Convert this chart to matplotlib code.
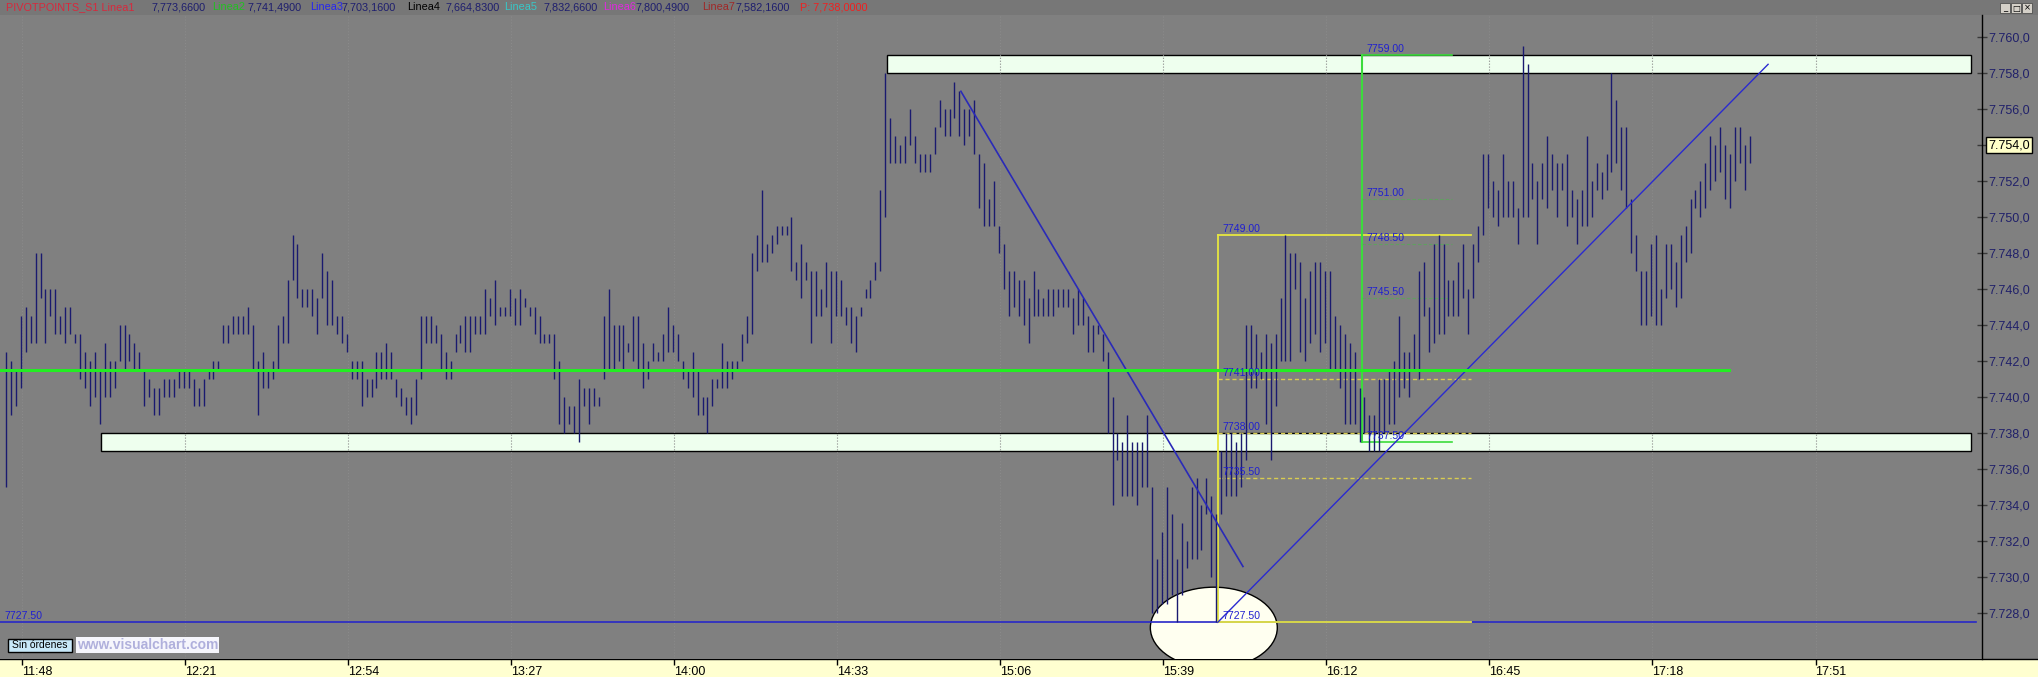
import numpy as np
import matplotlib
matplotlib.use("Agg")
import matplotlib.pyplot as plt
from matplotlib.patches import Rectangle, Ellipse
from matplotlib.lines import Line2D

plt.rcParams["font.family"] = ["Liberation Sans", "DejaVu Sans"]

W, H = 2038, 677

# -----------------------------
# 1-minute bars (high / low), first bar a bit before 11:48
# -----------------------------
highs = [
    7742.5, 7742.0, 7741.5, 7744.5, 7745.0, 7744.5, 7748.0, 7748.0, 7746.0, 7746.0,
    7746.0, 7744.5, 7745.0, 7745.0, 7743.5, 7743.5, 7742.5, 7742.0, 7742.5, 7741.5,
    7743.0, 7742.0, 7742.0, 7744.0, 7744.0, 7743.5, 7743.0, 7742.5, 7741.5, 7741.0,
    7740.5, 7740.5, 7741.0, 7741.0, 7741.0, 7741.5, 7741.5, 7741.5, 7741.0, 7740.5,
    7741.0, 7741.5, 7742.0, 7742.0, 7744.0, 7744.0, 7744.5, 7744.5, 7744.5, 7745.0,
    7744.0, 7742.0, 7742.5, 7741.5, 7742.0, 7744.0, 7744.5, 7746.5, 7749.0, 7748.5,
    7746.0, 7746.0, 7746.0, 7745.5, 7748.0, 7747.0, 7746.5, 7744.5, 7744.5, 7743.5,
    7742.0, 7742.0, 7742.0, 7741.0, 7741.0, 7742.5, 7742.5, 7743.0, 7742.5, 7741.0,
    7740.5, 7740.0, 7740.0, 7741.0, 7744.5, 7744.5, 7744.5, 7744.0, 7743.5, 7742.5,
    7742.0, 7743.5, 7744.0, 7744.5, 7744.5, 7744.5, 7744.5, 7746.0, 7745.5, 7746.5,
    7745.0, 7745.0, 7746.0, 7745.5, 7746.0, 7745.5, 7745.0, 7745.0, 7744.5, 7743.5,
    7743.5, 7743.5, 7742.0, 7740.0, 7739.5, 7739.5, 7741.0, 7740.5, 7740.5, 7740.5,
    7740.0, 7744.5, 7746.0, 7744.0, 7744.0, 7744.0, 7743.0, 7744.5, 7744.5, 7743.0,
    7742.0, 7743.0, 7742.5, 7743.5, 7745.0, 7744.0, 7743.5, 7742.0, 7741.5, 7742.5,
    7741.5, 7740.0, 7740.0, 7741.0, 7741.0, 7743.0, 7742.0, 7742.0, 7742.0, 7743.5,
    7744.5, 7748.0, 7749.0, 7751.5, 7748.5, 7749.0, 7749.5, 7749.5, 7749.5, 7750.0,
    7747.5, 7748.5, 7747.5, 7747.0, 7747.0, 7746.0, 7747.5, 7747.0, 7747.0, 7746.5,
    7745.0, 7745.0, 7744.5, 7745.0, 7746.0, 7746.5, 7747.5, 7751.5, 7758.0, 7755.5,
    7754.5, 7754.0, 7754.5, 7756.0, 7754.5, 7753.5, 7753.5, 7753.5, 7755.0, 7756.5,
    7756.0, 7756.0, 7757.5, 7757.0, 7756.0, 7756.0, 7756.5, 7753.5, 7753.0, 7751.0,
    7752.0, 7749.5, 7748.5, 7747.0, 7747.0, 7746.5, 7746.5, 7745.5, 7747.0, 7746.0,
    7745.5, 7746.0, 7746.0, 7746.0, 7746.0, 7746.0, 7745.5, 7746.0, 7745.5, 7744.5,
    7744.0, 7744.0, 7743.5, 7742.5, 7740.0, 7738.0, 7737.5, 7739.0, 7737.5, 7737.5,
    7737.5, 7739.0, 7735.0, 7731.0, 7732.5, 7735.0, 7733.5, 7731.0, 7733.0, 7732.0,
    7735.0, 7735.5, 7734.0, 7735.5, 7734.5, 7733.5, 7737.0, 7738.0, 7738.0, 7737.5,
    7738.0, 7744.0, 7744.0, 7743.5, 7742.5, 7743.5, 7743.0, 7743.5, 7745.5, 7749.0,
    7748.0, 7748.0, 7747.5, 7745.5, 7747.0, 7747.5, 7747.5, 7747.0, 7747.0, 7744.5,
    7744.0, 7743.5, 7743.0, 7742.5, 7740.5, 7740.0, 7739.0, 7739.0, 7741.0, 7741.0,
    7741.5, 7742.0, 7744.5, 7742.5, 7742.5, 7743.5, 7747.0, 7747.5, 7745.0, 7748.5,
    7749.0, 7748.5, 7746.5, 7746.5, 7747.5, 7748.5, 7746.0, 7748.5, 7749.5, 7753.5,
    7753.5, 7752.0, 7751.5, 7753.5, 7752.0, 7752.0, 7750.5, 7759.5, 7758.5, 7753.0,
    7752.0, 7753.0, 7754.5, 7753.5, 7753.0, 7753.0, 7753.5, 7751.5, 7751.0, 7751.5,
    7754.5, 7752.0, 7753.0, 7752.5, 7753.5, 7758.0, 7756.5, 7755.0, 7755.0, 7751.0,
    7749.0, 7747.0, 7747.0, 7748.5, 7749.0, 7746.0, 7748.5, 7748.5, 7747.5, 7749.0,
    7749.5, 7751.0, 7751.5, 7752.0, 7753.0, 7754.5, 7754.0, 7755.0, 7754.0, 7753.5,
    7755.0, 7755.0, 7754.0, 7754.5,
]
lows = [
    7735.0, 7739.0, 7739.5, 7740.5, 7742.5, 7743.0, 7743.0, 7745.5, 7743.0, 7744.5,
    7743.5, 7743.5, 7743.0, 7743.5, 7743.0, 7741.0, 7740.5, 7739.5, 7740.0, 7738.5,
    7740.0, 7740.0, 7740.5, 7742.0, 7741.5, 7742.0, 7741.5, 7741.5, 7739.5, 7740.0,
    7739.0, 7739.0, 7740.0, 7740.0, 7740.0, 7740.5, 7740.5, 7740.5, 7739.5, 7739.5,
    7739.5, 7741.0, 7741.0, 7741.5, 7743.0, 7743.0, 7743.5, 7743.5, 7743.5, 7743.5,
    7741.5, 7739.0, 7740.5, 7740.5, 7741.0, 7741.5, 7743.0, 7743.0, 7746.5, 7745.5,
    7745.0, 7745.0, 7744.5, 7743.5, 7745.5, 7744.0, 7744.0, 7743.5, 7743.0, 7742.5,
    7741.0, 7741.0, 7739.5, 7740.0, 7740.0, 7740.5, 7741.0, 7741.0, 7741.0, 7740.0,
    7739.5, 7739.0, 7738.5, 7739.0, 7741.0, 7743.0, 7743.0, 7743.0, 7741.5, 7741.0,
    7741.0, 7742.5, 7743.0, 7742.5, 7742.5, 7743.5, 7743.5, 7743.5, 7744.5, 7744.0,
    7744.5, 7744.5, 7744.5, 7744.0, 7744.0, 7745.0, 7744.5, 7743.5, 7743.0, 7743.0,
    7743.0, 7741.0, 7738.5, 7738.0, 7738.5, 7738.0, 7737.5, 7739.5, 7738.5, 7739.5,
    7739.5, 7741.0, 7741.5, 7741.5, 7742.0, 7741.5, 7742.5, 7742.0, 7741.5, 7740.5,
    7741.0, 7742.0, 7742.0, 7742.0, 7742.5, 7742.5, 7742.0, 7741.0, 7740.5, 7740.0,
    7739.0, 7739.0, 7738.0, 7739.5, 7740.5, 7740.5, 7740.5, 7741.0, 7741.5, 7742.0,
    7743.0, 7743.5, 7747.0, 7747.5, 7747.5, 7748.0, 7748.5, 7749.0, 7749.0, 7747.0,
    7746.5, 7745.5, 7746.5, 7743.0, 7744.5, 7744.5, 7745.0, 7743.0, 7744.5, 7744.5,
    7744.0, 7743.0, 7742.5, 7744.5, 7745.5, 7745.5, 7746.5, 7747.0, 7750.0, 7753.0,
    7753.0, 7753.0, 7753.0, 7754.0, 7753.0, 7752.5, 7752.5, 7752.5, 7753.5, 7755.0,
    7754.5, 7754.5, 7755.5, 7754.5, 7754.0, 7754.5, 7753.5, 7750.5, 7749.5, 7749.5,
    7749.5, 7748.0, 7746.0, 7744.5, 7745.0, 7744.5, 7744.0, 7743.0, 7744.5, 7744.5,
    7744.5, 7744.5, 7744.5, 7745.0, 7745.0, 7745.0, 7743.5, 7744.0, 7744.0, 7742.5,
    7742.5, 7743.5, 7742.0, 7738.0, 7734.0, 7736.5, 7734.5, 7734.5, 7734.5, 7734.0,
    7735.0, 7735.0, 7728.0, 7728.0, 7728.5, 7728.5, 7729.0, 7727.5, 7729.0, 7730.5,
    7731.0, 7731.0, 7731.5, 7733.5, 7730.0, 7727.5, 7733.5, 7734.5, 7734.5, 7734.5,
    7735.0, 7736.5, 7740.5, 7740.5, 7741.0, 7738.5, 7736.5, 7739.5, 7742.0, 7742.0,
    7742.0, 7746.0, 7742.5, 7742.0, 7743.0, 7743.5, 7742.5, 7743.0, 7741.5, 7741.5,
    7740.5, 7738.5, 7738.5, 7738.5, 7737.5, 7738.0, 7737.0, 7737.0, 7737.0, 7738.0,
    7738.5, 7738.5, 7740.0, 7740.5, 7740.0, 7741.5, 7741.0, 7744.5, 7742.5, 7743.0,
    7743.5, 7743.5, 7744.5, 7744.5, 7744.5, 7745.5, 7743.5, 7745.5, 7747.5, 7749.0,
    7750.5, 7750.0, 7749.5, 7750.0, 7750.0, 7750.0, 7748.5, 7750.0, 7750.0, 7751.0,
    7748.5, 7751.0, 7750.5, 7751.5, 7750.0, 7751.5, 7749.5, 7750.0, 7748.5, 7749.5,
    7749.5, 7750.0, 7751.5, 7751.0, 7751.5, 7752.5, 7753.0, 7751.5, 7750.5, 7748.0,
    7747.0, 7744.0, 7744.0, 7744.5, 7744.0, 7744.0, 7745.5, 7746.0, 7745.0, 7745.5,
    7747.5, 7748.0, 7750.5, 7750.0, 7750.5, 7751.5, 7752.0, 7752.5, 7751.0, 7750.5,
    7752.0, 7753.0, 7751.5, 7753.0,
]
FIRST_BAR_MIN = -3.3          # minutes relative to 11:48

time_labels = ["11:48", "12:21", "12:54", "13:27", "14:00", "14:33",
               "15:06", "15:39", "16:12", "16:45", "17:18", "17:51"]
time_ticks = [0, 33, 66, 99, 132, 165, 198, 231, 264, 297, 330, 363]
price_ticks = list(range(7728, 7761, 2))
last_price = 7754.0

# user drawings (prices, and minutes from 11:48)
upper_zone = (7758.0, 7759.0, 175.0, 394.5)
lower_zone = (7737.0, 7738.0, 15.9, 394.5)
linea2 = 7741.49
linea2_end = 345.5
support = 7727.5
support_end = 395.5
down_trend = ([190.0, 247.1], [7757.0, 7730.6])
up_trend = ([242.0, 353.4], [7727.5, 7758.5])
fib_y = (7727.5, 7749.0, 242.0, 293.3)
fib_y_levels = [7741.0, 7738.0, 7735.5]
fib_g = (7737.5, 7759.0, 271.2, 289.4)
fib_g_levels = [7751.0, 7748.5, 7745.5]
circle = (241.2, 7727.2, 25.7, 4.5)

header = [
    (6, "PIVOTPOINTS_S1 Linea1", "#d8283c"), (152, "7,773,6600", "#1e1e6e"),
    (212, "Linea2", "#22c022"), (248, "7,741,4900", "#1e1e6e"),
    (310, "Linea3", "#2626f0"), (342, "7,703,1600", "#1e1e6e"),
    (407, "Linea4", "#000000"), (446, "7,664,8300", "#1e1e6e"),
    (504, "Linea5", "#38c8c8"), (544, "7,832,6600", "#1e1e6e"),
    (603, "Linea6", "#e028e0"), (636, "7,800,4900", "#1e1e6e"),
    (702, "Linea7", "#a02828"), (736, "7,582,1600", "#1e1e6e"),
    (800, "P: 7,738,0000", "#f02020"),
]


def fmt_price(v):
    return f"{v:,.1f}".replace(",", "X").replace(".", ",").replace("X", ".")


fig = plt.figure(figsize=(W / 100, H / 100), dpi=100, facecolor="#808080")

# yellow time strip + dark header strip (behind the axes)
fig.patches.append(Rectangle((0, 0), 1, 18 / H, transform=fig.transFigure,
                             fc="#ffffd0", ec="none", zorder=-2))
fig.patches.append(Rectangle((0, 1 - 15 / H), 1, 15 / H, transform=fig.transFigure,
                             fc="#777777", ec="none", zorder=-2))
fig.lines.append(Line2D([0, 1], [18 / H, 18 / H], transform=fig.transFigure,
                        color="black", lw=1, zorder=-1))

ax = fig.add_axes([0, 18 / H, 1982 / W, 644 / H])
ax.set_facecolor("#808080")
ax.set_xlim(-4.51, 396.7)
ax.set_ylim(7725.46, 7761.24)
for s in ["top", "left", "bottom"]:
    ax.spines[s].set_visible(False)
ax.spines["right"].set_color("black")
ax.spines["right"].set_linewidth(1)

# zones
for lo, hi, x0, x1 in [upper_zone, lower_zone]:
    ax.add_patch(Rectangle((x0, lo), x1 - x0, hi - lo, fc="#eeffee", ec="black",
                           lw=1, zorder=1))
ax.vlines(time_ticks, 7725.46, 7761.24, colors="#8a8a8a", linestyles=":",
          lw=0.8, zorder=1.5)

cx, cy, cw, ch = circle
ax.add_patch(Ellipse((cx, cy), cw, ch, fc="#fffff0", ec="black", lw=1, zorder=1.6))

# bars
x = np.arange(len(highs)) + FIRST_BAR_MIN
ax.vlines(x, lows, highs, colors="#1a1a70", lw=1.0, zorder=3)

# horizontal levels
ax.plot([-4.51, linea2_end], [linea2, linea2], color="#22ee22", lw=2.2, zorder=4)
ax.plot([-4.51, support_end], [support, support], color="#2828c8", lw=1.2, zorder=2.5)
ax.annotate("7727.50", (-3.7, support), xytext=(0, 1), textcoords="offset points",
            va="bottom", ha="left", fontsize=7.6, color="#2020d0", zorder=5)

# yellow fibo
lo, hi, x0, x1 = fib_y
ax.plot([x0, x0], [lo, hi], color="#e6e640", lw=1.3, zorder=2.6)
ax.plot([x0, x1], [hi, hi], color="#e6e640", lw=1.3, zorder=2.6)
ax.plot([x0, x1], [lo, lo], color="#e6e640", lw=1.3, zorder=2.6)
for lv in fib_y_levels:
    ax.plot([x0, x1], [lv, lv], color="#d8cc50", lw=1, ls=(0, (3, 2)), zorder=2.6)
for lv in [hi] + fib_y_levels + [lo]:
    ax.annotate(f"{lv:.2f}", (x0 + 0.9, lv), xytext=(0, 1), textcoords="offset points",
                va="bottom", ha="left", fontsize=7.6, color="#2020d0", zorder=5)

# green fibo
lo, hi, x0, x1 = fib_g
ax.plot([x0, x0], [lo, hi], color="#3cdc3c", lw=1.5, zorder=2.7)
ax.plot([x0, x1], [hi, hi], color="#3cdc3c", lw=1.2, zorder=2.7)
ax.plot([x0, x1], [lo, lo], color="#3cdc3c", lw=1.2, zorder=2.7)
for lv in fib_g_levels:
    ax.plot([x0, x1], [lv, lv], color="#60a060", lw=0.8, ls=(0, (3, 2)), zorder=2.7)
for lv in [hi] + fib_g_levels + [lo]:
    ax.annotate(f"{lv:.2f}", (x0 + 0.9, lv), xytext=(0, 1), textcoords="offset points",
                va="bottom", ha="left", fontsize=7.6, color="#2020d0", zorder=5)

# trend lines
ax.plot(*down_trend, color="#2a2ab8", lw=1.2, zorder=3.5)
ax.plot(*up_trend, color="#2a2ad0", lw=1.0, zorder=3.5)

# axes ticks
ax.set_xticks(time_ticks)
ax.set_xticklabels(time_labels, ha="left", fontsize=9)
ax.tick_params(axis="x", length=4, width=1, color="black", pad=1, direction="out")
ax.yaxis.tick_right()
ax.set_yticks(price_ticks)
ax.set_yticklabels([fmt_price(p) for p in price_ticks], fontsize=9, color="#20206a")
ax.tick_params(axis="y", length=7, width=1, color="#3a3a3a", pad=1, direction="inout")

# last price tag
ytag = 1 - (37.3 + (7760 - last_price) * 18) / H
fig.text(1988 / W, ytag, fmt_price(last_price), fontsize=9, color="black",
         va="center", ha="left",
         bbox=dict(boxstyle="square,pad=0.15", fc="#ffffc8", ec="black", lw=1))

# header
for px, txt, col in header:
    fig.text(px / W, 1 - 7.5 / H, txt, fontsize=7.8, color=col, va="center", ha="left")

# window buttons
for bx, glyph in [(2000, "_"), (2011, "□"), (2022, "×")]:
    fig.patches.append(Rectangle((bx / W, 1 - 13 / H), 10 / W, 10 / H,
                                 transform=fig.transFigure, fc="#d4d0c8",
                                 ec="#505050", lw=0.6, zorder=3))
    fig.text((bx + 5) / W, 1 - 8 / H, glyph, fontsize=6, ha="center", va="center",
             color="black", family=["DejaVu Sans"], zorder=4)

# bottom-left boxes
fig.patches.append(Rectangle((8 / W, 1 - 652 / H), 64 / W, 13 / H,
                             transform=fig.transFigure, fc="#c8e8f8", ec="black",
                             lw=1, zorder=3))
fig.text(40 / W, 1 - 645.5 / H, "Sin órdenes", fontsize=7.5, ha="center", va="center",
         color="black", zorder=4)
fig.text(77 / W, 1 - 645 / H, "www.visualchart.com", fontsize=10, fontweight="bold",
         ha="left", va="center", color="#b0b0dc", zorder=4,
         bbox=dict(boxstyle="square,pad=0.05", fc="#f6f6fc", ec="none"))

fig.savefig("out.png", dpi=100, facecolor=fig.get_facecolor())
plt.close(fig)
